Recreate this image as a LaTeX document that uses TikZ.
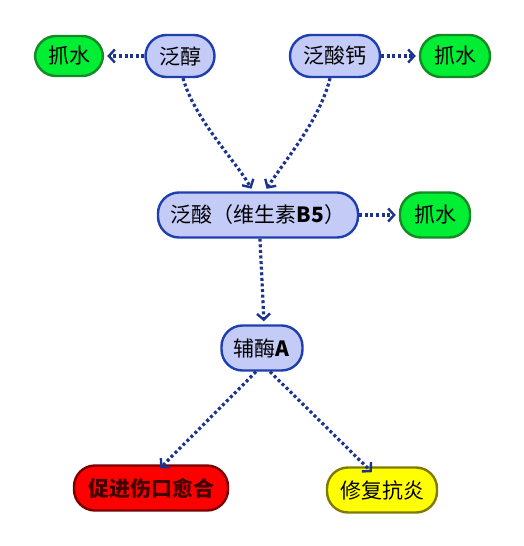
\documentclass[tikz,border=0pt]{standalone}
\usepackage{fontspec}
\setmainfont{Noto Sans CJK SC}
\usetikzlibrary{arrows.meta}
\definecolor{bluebd}{HTML}{1F3FB0}
\definecolor{bluefill}{HTML}{C3CBF6}
\definecolor{greenbd}{HTML}{158A25}
\definecolor{greenfill}{HTML}{00EE33}
\definecolor{redbd}{HTML}{7A0000}
\definecolor{redfill}{HTML}{FF0000}
\definecolor{yelbd}{HTML}{7F7A00}
\definecolor{yelfill}{HTML}{FFFF00}
\definecolor{arrowc}{HTML}{1C3490}
\tikzset{
  pill/.style={rounded corners=21pt, line width=2.4pt, inner sep=0pt, font=\fontsize{21}{23}\selectfont, anchor=center},
  bluebox/.style={pill, draw=bluebd, fill=bluefill},
  greenbox/.style={pill, draw=greenbd, fill=greenfill},
  redbox/.style={pill, draw=redbd, fill=redfill, text=black!75!red},
  yelbox/.style={pill, draw=yelbd, fill=yelfill},
  conn/.style={draw=arrowc, line width=3.2pt, dash pattern=on 3pt off 2.6pt, shorten >=3pt,
    -{Straight Barb[length=6pt,width=13pt,line width=2.4pt]}}
}
\begin{document}
\begin{tikzpicture}[x=1pt,y=-1pt]
\useasboundingbox (0,0) rectangle (523,546);
\node[greenbox, minimum width=68pt, minimum height=40pt] (w1) at (69,56) {抓水};
\node[bluebox, minimum width=69pt, minimum height=42pt] (pc) at (180,56) {泛醇};
\node[bluebox, minimum width=90pt, minimum height=42pt] (ca) at (335,56) {泛酸钙};
\node[greenbox, minimum width=70pt, minimum height=42pt] (w2) at (455,56) {抓水};
\node[bluebox, minimum width=200pt, minimum height=45pt] (pa) at (258,215) {泛酸（维生素\textbf{B5}）};
\node[greenbox, minimum width=70pt, minimum height=45pt] (w3) at (435,215) {抓水};
\node[bluebox, minimum width=81pt, minimum height=45pt] (coa) at (262,348) {辅酶\textbf{A}};
\node[redbox, minimum width=154pt, minimum height=45pt] (heal) at (151,488) {\textbf{促进伤口愈合}};
\node[yelbox, minimum width=110pt, minimum height=45pt] (rep) at (382,490) {修复抗炎};
\draw[conn] (pc.west) -- (w1.east);
\draw[conn] (ca.east) -- (w2.west);
\draw[conn] (pa.east) -- (w3.west);
\draw[conn] (pc.south) ++(3,0) coordinate (s1) (s1) .. controls (195,120) and (235,160) .. ([xshift=-5pt]pa.north);
\draw[conn] (ca.south) ++(-5,0) coordinate (s2) (s2) .. controls (320,120) and (285,160) .. ([xshift=7pt]pa.north);
\draw[conn] (pa.south) ++(2,0) coordinate (s3) (s3) -- ([xshift=2pt]coa.north);
\draw[conn] ([xshift=-6pt]coa.south) -- ([xshift=7pt,yshift=-6pt]heal.north);
\draw[conn] ([xshift=8pt]coa.south) -- ([xshift=-8pt,yshift=-8pt]rep.north);
\end{tikzpicture}
\end{document}
